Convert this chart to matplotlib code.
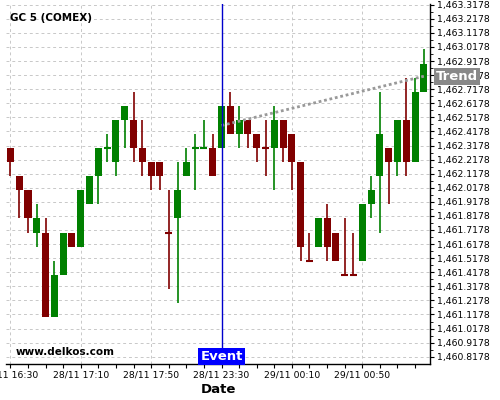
import matplotlib
matplotlib.use("Agg")
import matplotlib.pyplot as plt
from matplotlib.ticker import MultipleLocator, FixedLocator, FuncFormatter

# 5 minute candles, GC (COMEX)
opens = [1462.3, 1462.1, 1462.0, 1461.7, 1461.7, 1461.1, 1461.4, 1461.7, 1461.6, 1461.9,
         1462.1, 1462.3, 1462.2, 1462.5, 1462.5, 1462.3, 1462.2, 1462.2, 1461.7, 1461.8,
         1462.1, 1462.3, 1462.3, 1462.3, 1462.3, 1462.6, 1462.4, 1462.5, 1462.4, 1462.3,
         1462.3, 1462.5, 1462.4, 1462.2, 1461.5, 1461.6, 1461.8, 1461.7, 1461.4, 1461.4,
         1461.5, 1461.9, 1462.1, 1462.3, 1462.2, 1462.5, 1462.2, 1462.7]
highs = [1462.3, 1462.1, 1462.0, 1461.9, 1461.8, 1461.5, 1461.7, 1461.7, 1462.0, 1462.1,
         1462.3, 1462.4, 1462.5, 1462.6, 1462.7, 1462.5, 1462.2, 1462.2, 1462.0, 1462.2,
         1462.3, 1462.4, 1462.5, 1462.4, 1462.6, 1462.7, 1462.6, 1462.5, 1462.4, 1462.5,
         1462.6, 1462.5, 1462.4, 1462.2, 1461.7, 1461.8, 1461.9, 1461.7, 1461.8, 1461.7,
         1461.9, 1462.1, 1462.7, 1462.3, 1462.5, 1462.8, 1462.8, 1463.0]
lows = [1462.1, 1461.8, 1461.7, 1461.6, 1461.1, 1461.1, 1461.4, 1461.6, 1461.6, 1461.9,
        1461.9, 1462.2, 1462.1, 1462.3, 1462.2, 1462.1, 1462.0, 1462.0, 1461.3, 1461.2,
        1462.1, 1462.0, 1462.3, 1462.1, 1462.3, 1462.4, 1462.3, 1462.3, 1462.2, 1462.1,
        1462.0, 1462.2, 1462.0, 1461.5, 1461.5, 1461.6, 1461.5, 1461.5, 1461.4, 1461.4,
        1461.5, 1461.8, 1461.7, 1461.9, 1462.1, 1462.1, 1462.2, 1462.7]
closes = [1462.2, 1462.0, 1461.8, 1461.8, 1461.1, 1461.4, 1461.7, 1461.6, 1462.0, 1462.1,
          1462.3, 1462.3, 1462.5, 1462.6, 1462.3, 1462.2, 1462.1, 1462.1, 1461.7, 1462.0,
          1462.2, 1462.3, 1462.3, 1462.1, 1462.6, 1462.4, 1462.5, 1462.4, 1462.3, 1462.3,
          1462.5, 1462.3, 1462.2, 1461.6, 1461.5, 1461.8, 1461.6, 1461.5, 1461.4, 1461.4,
          1461.9, 1462.0, 1462.4, 1462.2, 1462.5, 1462.2, 1462.7, 1462.9]
# colour of the doji candles (open == close), by index
doji_up = {11: True, 18: False, 21: True, 22: True, 29: False, 34: False, 38: False, 39: False}

tick_labels = ["28/11 16:30", "28/11 17:10", "28/11 17:50", "28/11 23:30",
               "29/11 00:10", "29/11 00:50"]
event_idx = 24
trend_x = [24, 47]
trend_y = [1462.46, 1462.81]

up_col = "#008000"
down_col = "#800000"

fig = plt.figure(figsize=(5, 4), dpi=100)
ax = fig.add_axes([0.012, 0.09, 0.848, 0.90])

w = 0.8
for i, (o, h, l, c) in enumerate(zip(opens, highs, lows, closes)):
    if c == o:
        up = doji_up.get(i, True)
    else:
        up = c > o
    col = up_col if up else down_col
    ax.vlines(i, l, h, color=col, lw=1.2, zorder=3)
    if c == o:
        ax.hlines(o, i - w / 2, i + w / 2, color=col, lw=1.5, zorder=3)
    else:
        ax.bar(i, abs(c - o), w, bottom=min(o, c), color=col, lw=0, zorder=3)

# trend line
ax.plot(trend_x, trend_y, color="#999999", lw=2, ls=(0, (1, 1)), zorder=4)

# event line
ax.axvline(event_idx, color="#0000cc", lw=1, zorder=5)

ax.set_xlim(-0.5, 47.7)
ax.set_ylim(1460.766, 1463.323)

ax.xaxis.set_major_locator(FixedLocator([8 * k for k in range(len(tick_labels))]))
ax.set_xticklabels(tick_labels)
ax.xaxis.set_minor_locator(MultipleLocator(2))
ax.yaxis.set_major_locator(FixedLocator([1460.8178 + 0.1 * k for k in range(26)]))
ax.yaxis.set_minor_locator(FixedLocator([1460.8678 + 0.1 * k for k in range(25)]))
ax.yaxis.set_major_formatter(FuncFormatter(lambda v, p: f"{v:,.4f}"))
ax.yaxis.tick_right()

ax.tick_params(axis="both", which="major", labelsize=6.7, length=3, width=0.8, pad=2)
ax.tick_params(axis="x", which="minor", length=3, width=0.8)
ax.tick_params(axis="y", which="minor", length=2, width=0.6)

ax.grid(True, which="major", color="#c8c8c8", ls=(0, (3, 3)), lw=0.7)

for s in ["top", "left"]:
    ax.spines[s].set_visible(False)
ax.spines["right"].set_linewidth(1)
ax.spines["bottom"].set_linewidth(1)

ax.set_xlabel("Date", fontsize=9.5, fontweight="bold", labelpad=2)

ax.text(0.01, 0.975, "GC 5 (COMEX)", transform=ax.transAxes, fontsize=7.5,
        fontweight="bold", va="top", ha="left")
ax.text(0.022, 0.02, "www.delkos.com", transform=ax.transAxes, fontsize=7.5,
        fontweight="bold", va="bottom", ha="left")

ax.annotate("Event", xy=(event_idx, 0.021), xycoords=("data", "axes fraction"),
            ha="center", va="center", color="white", fontsize=9.5, fontweight="bold",
            bbox=dict(boxstyle="square,pad=0.15", fc="#0000ff", ec="none"), zorder=6)
ax.annotate("Trend", xy=(1.0, trend_y[1]), xycoords=("axes fraction", "data"),
            xytext=(4, 0), textcoords="offset points",
            ha="left", va="center", color="white", fontsize=9.5, fontweight="bold",
            bbox=dict(boxstyle="square,pad=0.15", fc="#888888", ec="none"),
            zorder=6, annotation_clip=False)

fig.savefig("out.png", dpi=100)
